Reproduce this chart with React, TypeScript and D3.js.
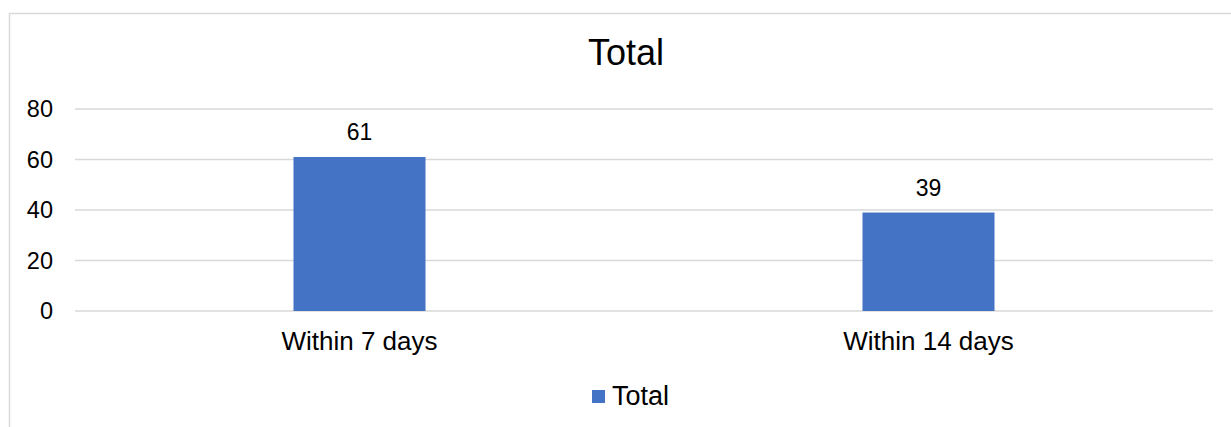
import React, { useEffect, useRef } from "react";
import * as d3 from "d3";

const categories = ["Within 7 days", "Within 14 days"];
const totals = [61, 39];
const yTicks = [0, 20, 40, 60, 80];
const seriesName = "Total";

const W = 1231;
const H = 427;
const FONT = "Arial, 'Liberation Sans', sans-serif";

export default function App() {
  const svgRef = useRef(null);

  useEffect(() => {
    if (!svgRef.current) return;
    const svg = d3.select(svgRef.current);
    svg.selectAll("*").remove();

    // chart frame (runs off the right/bottom edge)
    svg
      .append("rect")
      .attr("x", 9.5)
      .attr("y", 13.5)
      .attr("width", 1240)
      .attr("height", 430)
      .attr("fill", "#fff")
      .attr("stroke", "#d9d9d9")
      .attr("stroke-width", 1.5);

    const x = d3.scaleBand().domain(categories).range([75, 1213]);
    const y = d3.scaleLinear().domain([0, 80]).range([311, 109]);
    const barW = x.bandwidth() * 0.232;

    // title
    svg
      .append("text")
      .attr("x", 626)
      .attr("y", 65)
      .attr("text-anchor", "middle")
      .attr("font-family", FONT)
      .attr("font-size", 36)
      .attr("fill", "#000")
      .text(seriesName);

    // gridlines
    svg
      .append("g")
      .selectAll("line")
      .data(yTicks)
      .join("line")
      .attr("x1", 75)
      .attr("x2", 1213)
      .attr("y1", (d) => y(d))
      .attr("y2", (d) => y(d))
      .attr("stroke", "#d9d9d9")
      .attr("stroke-width", 1.5);

    // y tick labels
    svg
      .append("g")
      .selectAll("text")
      .data(yTicks)
      .join("text")
      .attr("x", 53)
      .attr("y", (d) => y(d))
      .attr("dy", "0.36em")
      .attr("text-anchor", "end")
      .attr("font-family", FONT)
      .attr("font-size", 23.5)
      .attr("fill", "#000")
      .text((d) => d);

    // bars
    svg
      .append("g")
      .selectAll("rect")
      .data(totals)
      .join("rect")
      .attr("x", (d, i) => x(categories[i]) + x.bandwidth() / 2 - barW / 2)
      .attr("y", (d) => y(d))
      .attr("width", barW)
      .attr("height", (d) => y(0) - y(d))
      .attr("fill", "#4472c4");

    // value labels
    svg
      .append("g")
      .selectAll("text")
      .data(totals)
      .join("text")
      .attr("x", (d, i) => x(categories[i]) + x.bandwidth() / 2)
      .attr("y", (d) => y(d) - 16.5)
      .attr("text-anchor", "middle")
      .attr("font-family", FONT)
      .attr("font-size", 23)
      .attr("fill", "#000")
      .text((d) => d);

    // category labels
    svg
      .append("g")
      .selectAll("text")
      .data(categories)
      .join("text")
      .attr("x", (d) => x(d) + x.bandwidth() / 2)
      .attr("y", 350)
      .attr("text-anchor", "middle")
      .attr("font-family", FONT)
      .attr("font-size", 26)
      .attr("fill", "#000")
      .text((d) => d);

    // legend
    const lg = svg.append("g");
    lg.append("rect")
      .attr("x", 592)
      .attr("y", 390)
      .attr("width", 13)
      .attr("height", 13)
      .attr("fill", "#4472c4");
    lg.append("text")
      .attr("x", 612)
      .attr("y", 405)
      .attr("font-family", FONT)
      .attr("font-size", 27)
      .attr("fill", "#000")
      .text(seriesName);
  }, []);

  return (
    <div style={{ position: "absolute", left: 0, top: 0 }}>
      <svg ref={svgRef} width={W} height={H} style={{ display: "block" }} />
    </div>
  );
}
